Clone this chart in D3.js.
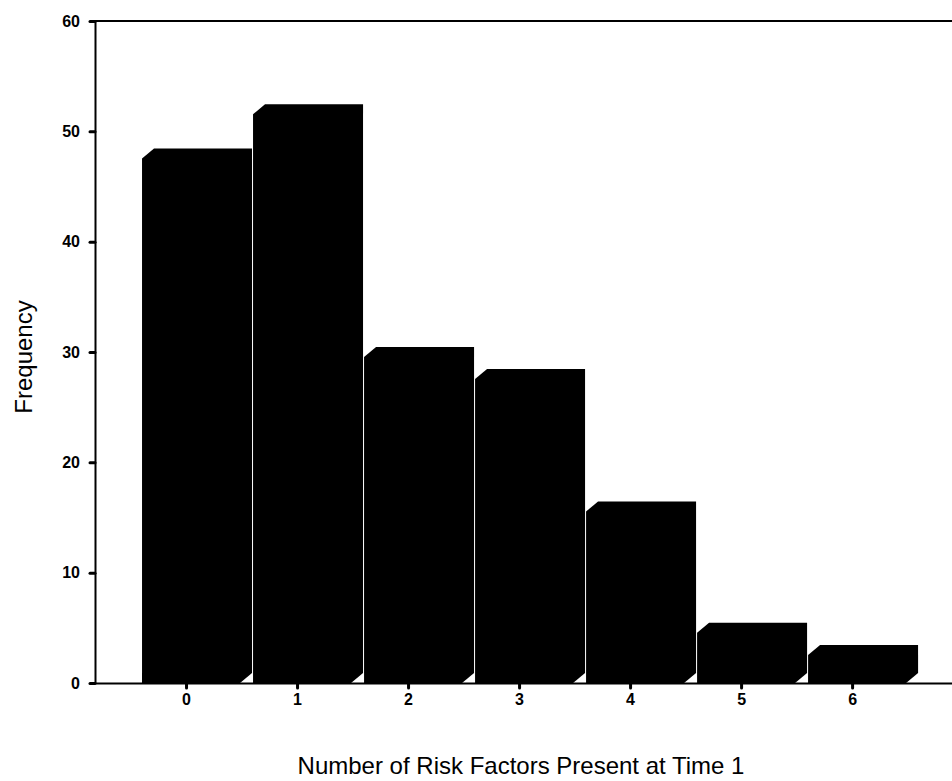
<!DOCTYPE html>
<html>
<head>
<meta charset="utf-8">
<script src="https://cdn.jsdelivr.net/npm/d3@7"></script>
<style>
  body { margin: 0; background: #fff; }
  text { font-family: "Liberation Sans", Arial, sans-serif; fill: #000; }
  .axis text { font-size: 16px; font-weight: bold; }
  .axis line { stroke: #000; stroke-width: 3; stroke-linecap: round; }
  .axis path { stroke: #000; stroke-width: 2; }
  .axis-title { font-size: 24px; }
</style>
</head>
<body>
<svg id="chart"></svg>
<script>
// risk factor counts and their frequencies
const categories = [0, 1, 2, 3, 4, 5, 6];
const frequencies = [48, 52, 30, 28, 16, 5, 3];
const yTicks = [0, 10, 20, 30, 40, 50, 60];

const width = 952;
const height = 781;
const margin = { top: 21, right: 0, bottom: 98, left: 95 };

// 3d look of the bars: depth offset and face extent around the tick
const depthX = 12;
const depthY = 10;
const faceLeft = 44;
const faceRight = 54;

const svg = d3.select('#chart')
  .attr('width', width)
  .attr('height', height);

svg.append('rect')
  .attr('width', width)
  .attr('height', height)
  .attr('fill', '#fff');

const xScale = d3.scaleLinear()
  .domain([-0.82, 6.9])
  .range([margin.left, width - margin.right]);

const yScale = d3.scaleLinear()
  .domain([0, 60])
  .range([height - margin.bottom, margin.top]);

const base = yScale(0);

// bars drawn as black prisms
svg.append('g')
  .selectAll('path')
  .data(categories)
  .join('path')
  .attr('fill', '#000')
  .attr('d', (c, i) => {
    const x0 = xScale(c) - faceLeft;
    const x1 = xScale(c) + faceRight;
    const top = yScale(frequencies[i]) + depthY / 2;
    return 'M' + x0 + ',' + base +
      'L' + x0 + ',' + top +
      'L' + (x0 + depthX) + ',' + (top - depthY) +
      'L' + (x1 + depthX) + ',' + (top - depthY) +
      'L' + (x1 + depthX) + ',' + (base - depthY) +
      'L' + x1 + ',' + base + 'Z';
  });

// top frame line
svg.append('line')
  .attr('x1', margin.left)
  .attr('x2', width - margin.right)
  .attr('y1', yScale(60))
  .attr('y2', yScale(60))
  .attr('stroke', '#000')
  .attr('stroke-width', 2);

const xAxis = d3.axisBottom(xScale)
  .tickValues(categories)
  .tickFormat(d3.format('d'))
  .tickSize(5)
  .tickSizeOuter(0)
  .tickPadding(6);

const yAxis = d3.axisLeft(yScale)
  .tickValues(yTicks)
  .tickFormat(d3.format('d'))
  .tickSize(5)
  .tickSizeOuter(0)
  .tickPadding(10);

svg.append('g')
  .attr('class', 'axis x-axis')
  .attr('transform', `translate(0,${base})`)
  .call(xAxis);

svg.append('g')
  .attr('class', 'axis y-axis')
  .attr('transform', `translate(${margin.left},0)`)
  .call(yAxis);

svg.selectAll('.axis .domain').attr('fill', 'none');

// axis titles
svg.append('text')
  .attr('class', 'axis-title')
  .attr('text-anchor', 'middle')
  .attr('transform', 'translate(32,357) rotate(-90)')
  .text('Frequency');

svg.append('text')
  .attr('class', 'axis-title')
  .attr('text-anchor', 'middle')
  .attr('x', 521)
  .attr('y', 774)
  .text('Number of Risk Factors Present at Time 1');
</script>
</body>
</html>
